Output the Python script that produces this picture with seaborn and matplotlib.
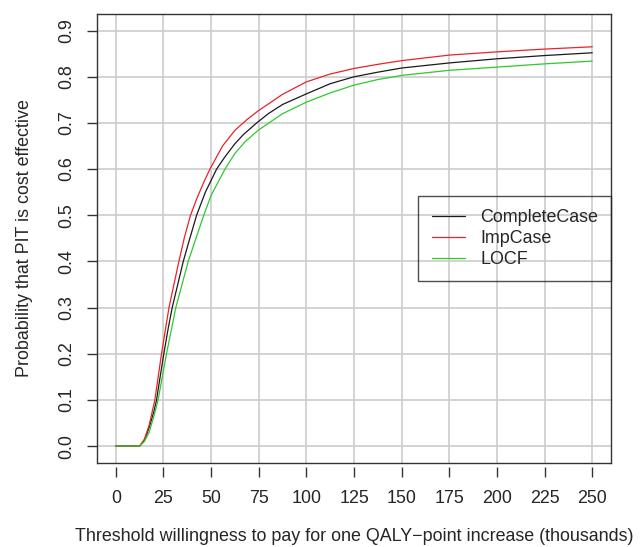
import pandas as pd
import matplotlib.pyplot as plt
import seaborn as sb

# values (WTP in thousands)
cc_x = [0, 5, 10, 12.5, 15, 17.5, 20, 21.4, 22.5, 25.2, 27.5, 29.6, 32.5, 35.4, 38.5, 42.4, 47, 52.9, 57,
        62.5, 67, 73.9, 80, 87.5, 100, 112.5, 125, 137.5, 150, 175, 200, 225, 250]
cc_y = [0, 0, 0, 0, 0.012, 0.04, 0.075, 0.1, 0.13, 0.2, 0.255, 0.3, 0.35, 0.4, 0.445, 0.5, 0.55, 0.6, 0.625,
        0.655, 0.675, 0.7, 0.72, 0.74, 0.763, 0.785, 0.8, 0.81, 0.819, 0.83, 0.839, 0.846, 0.852]

imp_x = [0, 5, 10, 12.5, 15, 17.5, 20.5, 24, 27.9, 33.1, 36, 39.2, 42.5, 46, 49.4, 56, 62.5, 68.75, 75, 87.5, 100,
         112.5, 125, 137.5, 150, 175, 200, 225, 250]
imp_y = [0, 0, 0, 0, 0.015, 0.045, 0.1, 0.2, 0.3, 0.4, 0.452, 0.5, 0.536, 0.57, 0.6, 0.65, 0.684, 0.707, 0.727,
         0.762, 0.789, 0.806, 0.818, 0.827, 0.835, 0.847, 0.854, 0.86, 0.865]

locf_x = [0, 5, 10, 12.5, 15, 17.5, 20, 22.2, 26.6, 31.5, 38, 45.9, 50, 57.3, 62.5, 68, 75, 87.5, 100,
          112.5, 125, 137.5, 150, 175, 200, 225, 250]
locf_y = [0, 0, 0, 0, 0.01, 0.03, 0.065, 0.1, 0.2, 0.3, 0.4, 0.497, 0.543, 0.6, 0.634, 0.66, 0.685, 0.72, 0.745,
          0.765, 0.782, 0.794, 0.803, 0.814, 0.821, 0.828, 0.834]

x_ticks = [0, 25, 50, 75, 100, 125, 150, 175, 200, 225, 250]
y_ticks = [0.0, 0.1, 0.2, 0.3, 0.4, 0.5, 0.6, 0.7, 0.8, 0.9]

df = pd.concat([
    pd.DataFrame({'wtp': cc_x, 'prob': cc_y, 'method': 'CompleteCase'}),
    pd.DataFrame({'wtp': imp_x, 'prob': imp_y, 'method': 'ImpCase'}),
    pd.DataFrame({'wtp': locf_x, 'prob': locf_y, 'method': 'LOCF'}),
])

sb.set_style('white')
plt.rcParams['font.family'] = ['Liberation Sans', 'DejaVu Sans']
fs = 12.85

fig = plt.figure(figsize=(6.41, 5.47), dpi=100)
ax = fig.add_axes([0.1509, 0.1541, 0.9537 - 0.1509, 0.9744 - 0.1541])

# grid first so curves sit on top
for xv in x_ticks:
    ax.axvline(xv, color='#cccccc', lw=1.2, zorder=0)
for yv in y_ticks:
    ax.axhline(yv, color='#cccccc', lw=1.2, zorder=0)

cols = {'CompleteCase': '#1a1a1a', 'ImpCase': '#e8232a', 'LOCF': '#2fc82f'}
sb.lineplot(data=df, x='wtp', y='prob', hue='method', sort=False, estimator=None,
            palette=cols, lw=0.9, ax=ax, legend=False)

ax.set_xlim(-10, 260)
ax.set_ylim(-0.036, 0.936)
ax.set_xticks(x_ticks)
ax.set_yticks(y_ticks)
ax.set_xticklabels([str(v) for v in x_ticks])
ax.set_yticklabels(['%.1f' % v for v in y_ticks], rotation=90, va='center')
ax.tick_params(axis='both', direction='out', bottom=True, left=True, width=1, color='#333333', labelsize=fs)
ax.tick_params(axis='x', length=7, pad=10)
ax.tick_params(axis='y', length=7.5, pad=8)
for s in ax.spines.values():
    s.set_color('#333333')
    s.set_linewidth(1)
# R draws the x ticks a little below the box
ax.spines['bottom'].set_position(('outward', 3))
ax.spines['bottom'].set_color('none')
ax.plot([0, 1], [0, 0], transform=ax.transAxes, color='#333333', lw=1, clip_on=False)

ax.set_xlabel('Threshold willingness to pay for one QALY\u2212point increase (thousands)', fontsize=fs, labelpad=14.5)
ax.set_ylabel('Probability that PIT is cost effective', fontsize=fs, labelpad=18)

handles = [plt.Line2D([], [], color=c, lw=0.9) for c in cols.values()]
leg = ax.legend(handles, list(cols.keys()), loc='center right', bbox_to_anchor=(1, 0.5),
                frameon=True, fancybox=False, fontsize=fs,
                handlelength=1.85, handletextpad=0.85, labelspacing=0.22, borderpad=0.75, borderaxespad=0)
leg.get_frame().set_facecolor('none')
leg.get_frame().set_edgecolor('#222222')
leg.get_frame().set_linewidth(1)

fig.savefig('out.png', dpi=100)
